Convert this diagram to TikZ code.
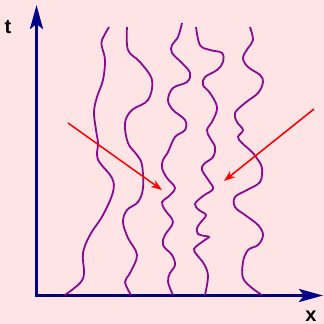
\documentclass[tikz,border=0pt]{standalone}
\usepackage{fontspec}
\setmainfont{Liberation Sans}
\usetikzlibrary{arrows.meta}
\definecolor{bgpink}{HTML}{FFE4E6}
\definecolor{axisblue}{HTML}{000088}
\definecolor{wavepurple}{HTML}{8B0A8F}
\begin{document}
\begin{tikzpicture}[x=1pt,y=-1pt,
  axisline/.style={axisblue, line width=3.3pt, -{Stealth[length=24pt,width=13pt,inset=5pt]}},
  wavyline/.style={wavepurple, line width=1.8pt},
  redarrow/.style={red, line width=1.5pt, -{Stealth[length=11pt,width=8pt,inset=3pt]}},
  axislabel/.style={font=\fontsize{20}{20}\selectfont\bfseries, anchor=base, inner sep=0pt}]
\useasboundingbox[fill=bgpink] (0,0) rectangle (324,324);
\coordinate (origin) at (36.5,295.5);
\coordinate (ttip) at (36.5,5);
\coordinate (xtip) at (323,295.5);
\draw[axisline] ([yshift=-1.6pt]origin) -- (ttip);
\draw[axisline] ([xshift=-1.6pt]origin) -- (xtip);
\node[axislabel] (tlab) at (8,33) {t};
\node[axislabel] (xlab) at (311,321) {x};
% wave 1
\draw[wavyline] plot[smooth, tension=0.6] coordinates {(109,27) (102,40) (102,47) (105,60) (103,80) (97,97) (94,112) (96,130) (98,143) (97,155) (100,163) (112,178) (113,192) (103,215) (90,235) (83,253) (84,273) (80,283) (65,295)};
% wave 2
\draw[wavyline] plot[smooth, tension=0.6] coordinates {(127,27) (128,50) (140,62) (152,80) (148,100) (132,110) (125,123) (128,143) (137,155) (142,165) (143,188) (138,202) (127,210) (123,222) (128,238) (137,255) (130,273) (125,282) (131,295)};
% wave 3
\draw[wavyline] plot[smooth, tension=0.6] coordinates {(182,23) (178,37) (172,45) (172,53) (182,63) (190,73) (187,82) (173,88) (168,100) (173,110) (185,120) (185,130) (175,137) (168,152) (163,160) (162,168) (167,178) (175,188) (168,197) (162,202) (165,210) (173,222) (165,235) (163,245) (172,255) (175,265) (170,273) (168,282) (173,295)};
% wave 4
\draw[wavyline] plot[smooth, tension=0.6] coordinates {(196,27) (200,45) (210,50) (222,53) (223,62) (217,70) (205,77) (203,85) (210,93) (217,107) (213,120) (207,130) (210,138) (215,147) (213,157) (204,164) (202,170) (209,181) (213,189) (203,196) (195,204) (199,210) (206,215) (201,222) (197,228) (198,234) (205,236) (209,237) (202,242) (194,249) (197,255) (204,264) (208,276) (205,295)};
% wave 5
\draw[wavyline] plot[smooth, tension=0.6] coordinates {(250,27) (253,40) (248,48) (243,58) (248,67) (260,75) (263,82) (258,93) (245,103) (235,113) (237,122) (243,130) (238,137) (242,143) (252,152) (258,160) (262,168) (260,182) (247,190) (235,197) (235,207) (245,215) (258,225) (263,235) (258,245) (248,250) (243,262) (243,278) (252,288) (262,295)};
% red arrows
\coordinate (a1s) at (68,123);
\coordinate (a1e) at (162,190);
\coordinate (a2s) at (314,109);
\coordinate (a2e) at (224,181);
\draw[redarrow] (a1s) -- (a1e);
\draw[redarrow] (a2s) -- (a2e);
\end{tikzpicture}
\end{document}
